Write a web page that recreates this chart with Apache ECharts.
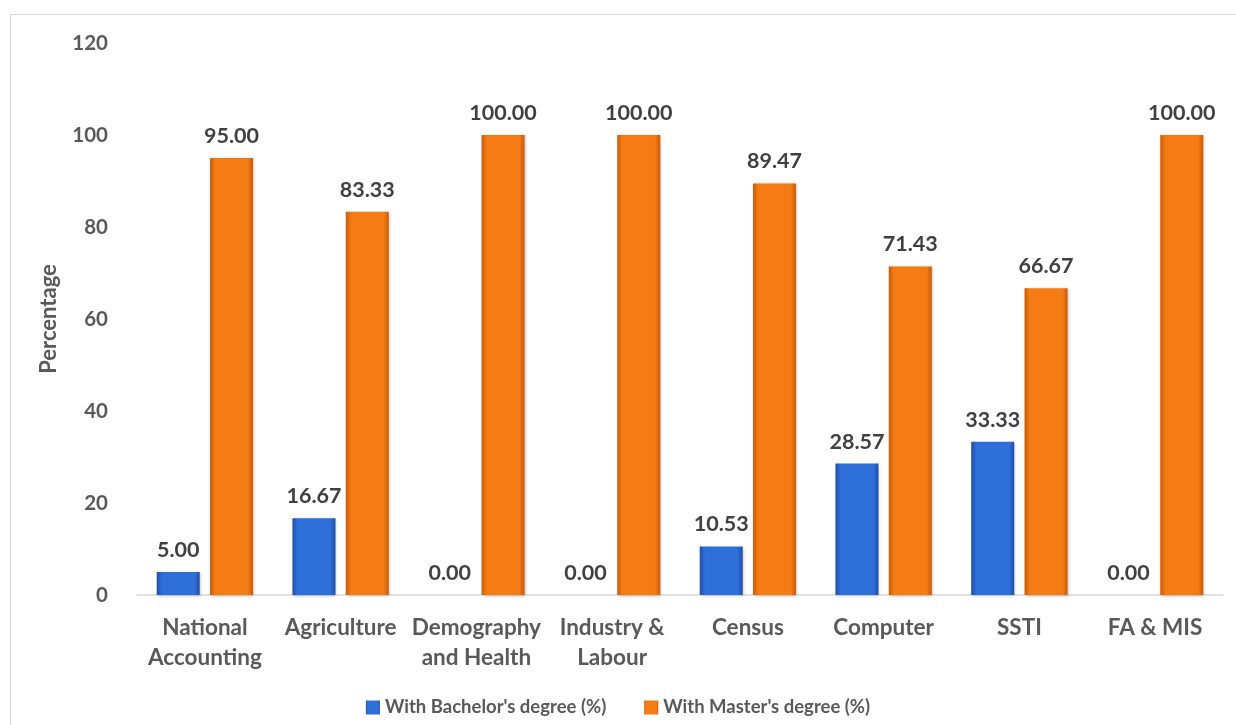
<!DOCTYPE html>
<html>
<head>
<meta charset="utf-8">
<script src="https://cdn.jsdelivr.net/npm/echarts@6/dist/echarts.min.js"></script>
<style>
  html, body { margin: 0; padding: 0; background: #fff; }
  #chart { width: 1236px; height: 725px; }
</style>
</head>
<body>
<div id="chart"></div>
<script>
// Share of staff by highest degree, per division
const categories = ['National\nAccounting', 'Agriculture', 'Demography\nand Health', 'Industry &\nLabour', 'Census', 'Computer', 'SSTI', 'FA & MIS'];
const bachelorValues = [5.00, 16.67, 0.00, 0.00, 10.53, 28.57, 33.33, 0.00];
const masterValues = [95.00, 83.33, 100.00, 100.00, 89.47, 71.43, 66.67, 100.00];
const seriesNames = ["With Bachelor's degree (%)", "With Master's degree (%)"];
const yTicks = { min: 0, max: 120, interval: 20 };

const FONT = 'Lato';

// Horizontal gradient gives the bars a bevelled look
function bevel(edge, mid) {
  return new echarts.graphic.LinearGradient(0, 0, 1, 0, [
    { offset: 0, color: edge },
    { offset: 0.12, color: mid },
    { offset: 0.88, color: mid },
    { offset: 1, color: edge }
  ]);
}

const labelStyle = {
  show: true,
  position: 'top',
  distance: 11,
  formatter: p => p.value.toFixed(2),
  fontFamily: FONT,
  fontWeight: 'bold',
  fontSize: 21.5,
  color: '#404040'
};

const chart = echarts.init(document.getElementById('chart'), null, { renderer: 'canvas' });
chart.setOption({
  animation: false,
  backgroundColor: '#ffffff',
  graphic: [{
    type: 'rect',
    left: 8, top: 12,
    shape: { width: 1240, height: 730 },
    style: { fill: 'none', stroke: '#d9d9d9', lineWidth: 1 },
    silent: true
  }],
  grid: { left: 137, right: 13, top: 43, bottom: 130 },
  legend: {
    bottom: 3,
    left: 'center',
    itemWidth: 14,
    itemHeight: 14,
    itemGap: 38,
    icon: 'rect',
    textStyle: { fontFamily: FONT, fontWeight: 'bold', fontSize: 18.5, color: '#595959' },
    data: seriesNames
  },
  xAxis: {
    type: 'category',
    data: categories,
    axisLine: { lineStyle: { color: '#d9d9d9', width: 1.5 } },
    axisTick: { show: false },
    axisLabel: {
      interval: 0,
      margin: 18,
      fontFamily: FONT,
      fontWeight: 'bold',
      fontSize: 22.5,
      lineHeight: 30,
      color: '#595959'
    }
  },
  yAxis: {
    type: 'value',
    min: yTicks.min,
    max: yTicks.max,
    interval: yTicks.interval,
    name: 'Percentage',
    nameLocation: 'middle',
    nameGap: 77,
    nameTextStyle: { fontFamily: FONT, fontWeight: 'bold', fontSize: 22, color: '#595959' },
    axisLine: { show: false },
    axisTick: { show: false },
    splitLine: { show: false },
    axisLabel: {
      margin: 29,
      fontFamily: FONT,
      fontWeight: 'bold',
      fontSize: 20.5,
      color: '#595959'
    }
  },
  series: [
    {
      name: seriesNames[0],
      type: 'bar',
      data: bachelorValues,
      barWidth: 43,
      barGap: '24%',
      itemStyle: {
        color: bevel('#1d4fa8', '#2f6fd8'),
        shadowColor: 'rgba(0,0,0,0.25)',
        shadowBlur: 3,
        shadowOffsetX: 1,
        shadowOffsetY: 1
      },
      label: labelStyle
    },
    {
      name: seriesNames[1],
      type: 'bar',
      data: masterValues,
      barWidth: 43,
      itemStyle: {
        color: bevel('#c85a08', '#f57c14'),
        shadowColor: 'rgba(0,0,0,0.25)',
        shadowBlur: 3,
        shadowOffsetX: 1,
        shadowOffsetY: 1
      },
      label: labelStyle
    }
  ]
});
</script>
</body>
</html>
